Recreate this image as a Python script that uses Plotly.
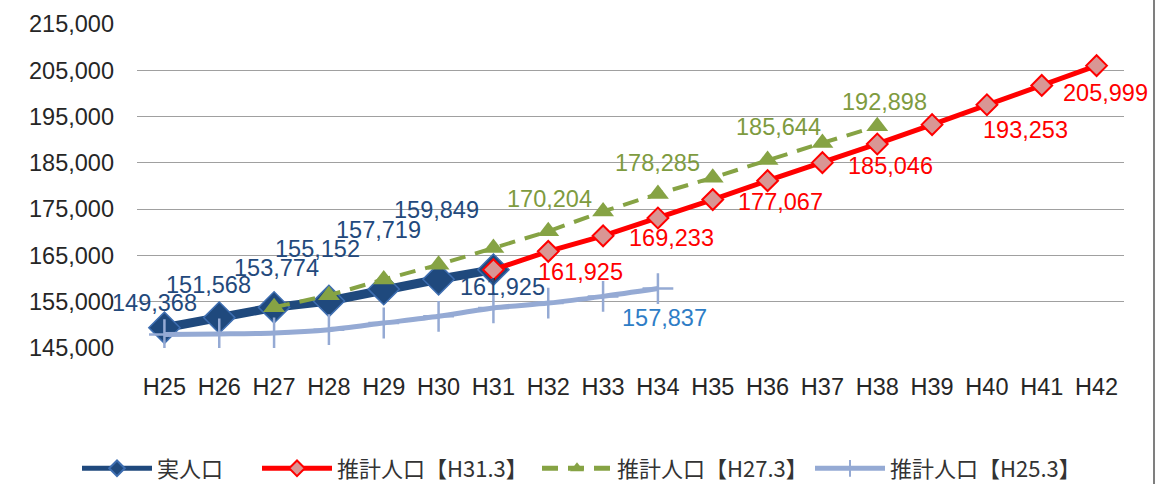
import plotly.graph_objects as go

# ---------------- data ----------------
years = ["H25", "H26", "H27", "H28", "H29", "H30", "H31", "H32", "H33",
         "H34", "H35", "H36", "H37", "H38", "H39", "H40", "H41", "H42"]

actual_x = years[0:7]
actual_y = [149368, 151568, 153774, 155152, 157719, 159849, 161925]

est31_x = years[6:18]
est31_y = [161925, 165880, 169233, 173100, 177067, 181150, 185046, 189080,
           193253, 197560, 201730, 205999]

est27_x = years[2:14]
est27_y = [153800, 156400, 159800, 163000, 166600, 170204, 174500, 178285,
           181800, 185644, 189300, 192898]

est25_x = years[0:10]
est25_y = [147900, 148030, 148250, 148950, 150400, 151850, 153650, 154700,
           156150, 157837]

names = ["実人口", "推計人口【H31.3】", "推計人口【H27.3】", "推計人口【H25.3】"]

# which points carry a data label (index into each series)
actual_lbl = [0, 1, 2, 3, 4, 5, 6]
est31_lbl = [0, 2, 4, 6, 8, 11]
est27_lbl = [5, 7, 9, 11]
est25_lbl = [9]

# ---------------- style ----------------
NAVY = "#1F497D"
RED = "#FF0000"
GREEN = "#86A344"
LBLUE = "#95AAD4"
NUMFONT = "Liberation Sans, Arial, sans-serif"
CJKFONT = "Noto Sans CJK JP, sans-serif"

# label pixel offsets (xshift, yshift), one per labelled point
actual_off = [(-10, 25), (-11, 33), (2, 39), (-11, 52), (-5, 59), (-2, 69), (9, -17)]
est31_off = [(87, -2), (68, -2), (68, -2), (68, -3), (93, -5), (9, -27)]
est27_off = [(1, 32), (0, 31), (11, 33), (7, 24)]
est25_off = [(7, -29)]

fig = go.Figure()

fig.add_trace(go.Scatter(
    x=actual_x, y=actual_y, name=names[0], mode="lines+markers",
    line=dict(color=NAVY, width=9),
    marker=dict(symbol="diamond", size=24, color=NAVY,
                line=dict(color="#3D6DB0", width=1.5)),
    legend="legend"))

fig.add_trace(go.Scatter(
    x=est31_x, y=est31_y, name=names[1], mode="lines+markers",
    line=dict(color=RED, width=5),
    marker=dict(symbol="diamond", size=16, color="#D99694",
                line=dict(color=RED, width=2)),
    legend="legend2"))

fig.add_trace(go.Scatter(
    x=est27_x, y=est27_y, name=names[2], mode="lines+markers",
    line=dict(color=GREEN, width=4, dash="16px,10px"),
    marker=dict(symbol="triangle-up", size=19, color=GREEN),
    legend="legend3"))

fig.add_trace(go.Scatter(
    x=est25_x, y=est25_y, name=names[3], mode="lines+markers",
    line=dict(color=LBLUE, width=5, shape="spline", smoothing=0.8),
    marker=dict(symbol="cross-thin", size=22,
                line=dict(color=LBLUE, width=2.5)),
    legend="legend4"))

annotations = []


def add_labels(xs, ys, idxs, offs, color):
    for i, (dx, dy) in zip(idxs, offs):
        annotations.append(dict(
            x=xs[i], y=ys[i], xref="x", yref="y", text=f"{ys[i]:,}",
            showarrow=False, xshift=dx, yshift=dy,
            xanchor="center", yanchor="middle",
            font=dict(family=NUMFONT, size=23.5, color=color)))


add_labels(actual_x, actual_y, actual_lbl, actual_off, "#23497C")
add_labels(est31_x, est31_y, est31_lbl, est31_off, RED)
add_labels(est27_x, est27_y, est27_lbl, est27_off, "#7E9B40")
add_labels(est25_x, est25_y, est25_lbl, est25_off, "#2E7DC6")

legend_common = dict(orientation="h", xref="container", yref="container",
                     yanchor="middle", y=0.032, xanchor="left",
                     itemwidth=70, itemsizing="constant",
                     bgcolor="rgba(0,0,0,0)",
                     font=dict(family=CJKFONT, size=22, color="#333333"))

fig.update_layout(
    width=1160, height=484,
    margin=dict(l=137, r=36, t=24, b=136),
    paper_bgcolor="white", plot_bgcolor="white",
    showlegend=True,
    legend=dict(x=77 / 1160, **legend_common),
    legend2=dict(x=257 / 1160, **legend_common),
    legend3=dict(x=537 / 1160, **legend_common),
    legend4=dict(x=810 / 1160, **legend_common),
    annotations=annotations,
    xaxis=dict(type="category", categoryorder="array", categoryarray=years,
               range=[-0.5, len(years) - 0.5], showgrid=False,
               showline=False, zeroline=False, ticks="",
               ticklabelstandoff=22,
               tickfont=dict(family=NUMFONT, size=23.5, color="#262626")),
    yaxis=dict(range=[145000, 215000], dtick=10000, tick0=145000,
               tickformat=",", showgrid=True, gridcolor="#A0A0A0",
               gridwidth=1.3, zeroline=False, showline=False, ticks="",
               ticklabelstandoff=22,
               tickfont=dict(family=NUMFONT, size=23.5, color="#262626")),
    shapes=[dict(type="line", xref="paper", yref="paper",
                 x0=1.0304, x1=1.0304, y0=-0.42, y1=1.074,
                 line=dict(color="#7F7F7F", width=2))],
)

fig.write_html("out.html",
               config={"displayModeBar": False},
               post_script="document.body.style.margin='0px';")
